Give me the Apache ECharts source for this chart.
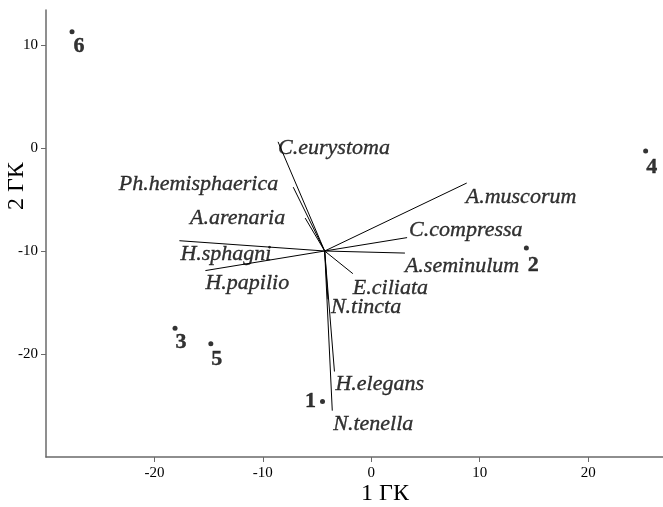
<!DOCTYPE html>
<html>
<head>
<meta charset="utf-8">
<script src="https://cdn.jsdelivr.net/npm/echarts@6/dist/echarts.min.js"></script>
<style>
  html, body { margin: 0; padding: 0; background: #fff; }
  #chart { width: 663px; height: 507px; }
</style>
</head>
<body>
<div id="chart"></div>
<script>
// Ordination biplot: site scores (1-6) and species vectors on the first two axes
const siteNames = ['1', '2', '3', '4', '5', '6'];
const siteX = [-4.5, 14.3, -18.1, 25.3, -14.8, -27.6];
const siteY = [-24.6, -9.7, -17.5, -0.3, -19.0, 11.3];

const vectorOrigin = [-4.3, -10.0];
const speciesNames = ['C.eurystoma', 'Ph.hemisphaerica', 'A.arenaria', 'H.sphagni', 'H.papilio',
  'A.muscorum', 'C.compressa', 'A.seminulum', 'E.ciliata', 'N.tincta', 'H.elegans', 'N.tenella'];
const speciesX = [-8.6, -7.2, -6.1, -17.7, -15.3, 8.8, 3.3, 3.1, -1.7, -4.0, -3.4, -3.6];
const speciesY = [0.6, -3.8, -6.8, -9.0, -11.9, -3.4, -8.7, -10.2, -12.2, -14.7, -21.7, -25.5];

const xTicks = [-20, -10, 0, 10, 20];
const yTicks = [-20, -10, 0, 10];

// label placement for each species name: side of the end point and pixel offset
const speciesLabelSide = ['right', 'left', 'left', 'right', 'right', 'right', 'right', 'right', 'right', 'right', 'right', 'right'];
const speciesLabelOffset = [[0, 6], [-15, -3], [-20, 0], [1, 14], [0, 13], [-1, 14], [2, -7], [0, 13], [0, 15], [3, 8], [1, 13], [1, 14]];
// label offsets for site numbers (label centre relative to the dot)
const siteLabelOffset = [[-12, 0], [7, 17], [6, 14], [6, 16], [6, 16], [7, 15]];

const serif = '"Liberation Serif", "Times New Roman", serif';
const axisGray = '#6a6a6a';

const chart = echarts.init(document.getElementById('chart'), null, { renderer: 'canvas' });

const vectorData = speciesNames.map((n, i) => ({
  coords: [vectorOrigin, [speciesX[i], speciesY[i]]]
}));

const speciesPoints = speciesNames.map((n, i) => ({
  name: n,
  value: [speciesX[i], speciesY[i]],
  label: {
    position: speciesLabelSide[i],
    offset: speciesLabelOffset[i]
  }
}));

const sitePoints = siteNames.map((n, i) => ({
  name: n,
  value: [siteX[i], siteY[i]],
  label: {
    position: 'inside',
    offset: siteLabelOffset[i]
  }
}));

const axisCommon = {
  type: 'value',
  axisLine: { show: true, onZero: false, lineStyle: { color: axisGray, width: 1.5 } },
  axisTick: { show: true, length: 5, inside: false, lineStyle: { color: axisGray, width: 1 } },
  splitLine: { show: false },
  axisLabel: { color: '#000', fontFamily: serif, fontSize: 15 }
};

chart.setOption({
  animation: false,
  backgroundColor: '#fff',
  grid: { left: 46, right: 0, top: 10, bottom: 50, containLabel: false },
  xAxis: Object.assign({}, axisCommon, {
    min: -30, max: 26.9, interval: 10,
    axisTick: Object.assign({}, axisCommon.axisTick, { customValues: xTicks }),
    axisLabel: Object.assign({}, axisCommon.axisLabel, { customValues: xTicks, margin: 9 })
  }),
  yAxis: Object.assign({}, axisCommon, {
    min: -30, max: 13.4, interval: 10,
    axisTick: Object.assign({}, axisCommon.axisTick, { customValues: yTicks }),
    axisLabel: Object.assign({}, axisCommon.axisLabel, { customValues: yTicks, margin: 8 })
  }),
  graphic: [
    {
      type: 'text', left: 361, top: 482,
      style: { text: '1 ГК', font: '24px ' + serif, fill: '#000' }
    },
    {
      type: 'text', x: 5, y: 210, rotation: Math.PI / 2,
      style: { text: '2 ГК', font: '24px ' + serif, fill: '#000' }
    }
  ],
  series: [
    {
      type: 'lines',
      coordinateSystem: 'cartesian2d',
      silent: true,
      lineStyle: { color: '#000', width: 1, opacity: 1, curveness: 0 },
      data: vectorData
    },
    {
      type: 'scatter',
      symbolSize: 0,
      silent: true,
      label: {
        show: true,
        formatter: '{b}',
        distance: 0,
        color: '#000',
        textBorderColor: '#000',
        textBorderWidth: 0.35,
        fontFamily: serif,
        fontStyle: 'italic',
        fontSize: 22
      },
      data: speciesPoints
    },
    {
      type: 'scatter',
      symbol: 'circle',
      symbolSize: 5,
      silent: true,
      itemStyle: { color: '#000' },
      label: {
        show: true,
        formatter: '{b}',
        color: '#000',
        textBorderColor: '#000',
        textBorderWidth: 0.4,
        fontFamily: serif,
        fontWeight: 'bold',
        fontSize: 22
      },
      data: sitePoints
    }
  ]
});
</script>
</body>
</html>
